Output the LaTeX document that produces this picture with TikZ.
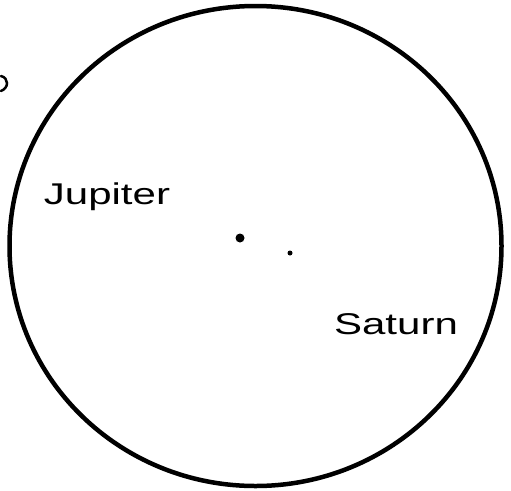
\documentclass[tikz,border=0pt]{standalone}
\usepackage{fontspec}
\setmainfont{Liberation Sans}
\begin{document}
\begin{tikzpicture}[x=1pt,y=-1pt,
  rim/.style={line width=4.5pt,black},
  planet/.style={circle,fill=black,inner sep=0pt},
  label/.style={font=\fontsize{30}{30}\selectfont,inner sep=0pt,xscale=1.4,transform shape}]
\useasboundingbox (0,0) rectangle (511,490);
\draw[rim] (255.5,246) ellipse [x radius=246, y radius=240];
\draw[line width=2.5pt,line cap=round] (1,76) .. controls (9,78) and (9,88) .. (1,91);
\node[planet,minimum size=9pt] (jup) at (240,238) {};
\node[planet,minimum size=5pt] (sat) at (290,253) {};
\node[label] (jl) at (107,197) {Jupiter};
\node[label] (sl) at (396,324) {Saturn};
\end{tikzpicture}
\end{document}
